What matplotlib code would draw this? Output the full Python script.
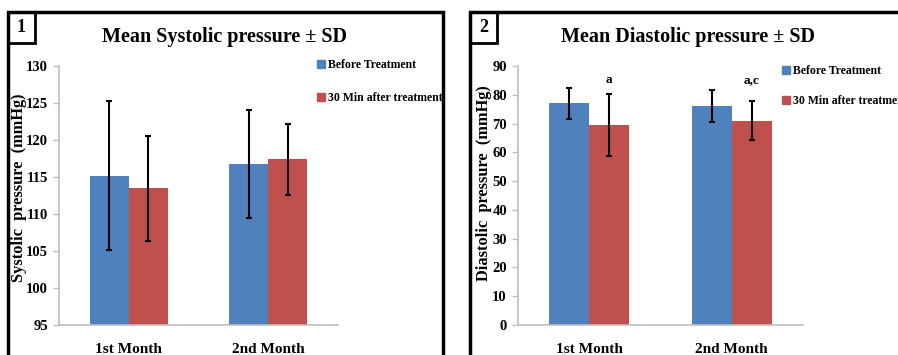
import matplotlib.pyplot as plt
from matplotlib.patches import Rectangle
from matplotlib.lines import Line2D

months = ['1st Month', '2nd Month']
series = ['Before Treatment', '30 Min after treatment']

sys_before = [115.2, 116.8]
sys_before_sd = [10.1, 7.3]
sys_after = [113.5, 117.4]
sys_after_sd = [7.1, 4.8]

dia_before = [77.0, 76.1]
dia_before_sd = [5.4, 5.4]
dia_after = [69.4, 71.0]
dia_after_sd = [10.8, 6.8]
dia_marks = ['a', 'a,c']

blue = '#4F81BD'
red = '#C0504D'
grey = '#BFBFBF'
W, H = 898, 355

plt.rcParams['font.family'] = 'Liberation Serif'
plt.rcParams['font.weight'] = 'bold'

fig = plt.figure(figsize=(W / 100, H / 100), dpi=100)


def fx(px):
    return px / W


def fy(py):
    return 1 - py / H


def panel(x0, x1, ax_l, ax_r, num, title, title_x, ylabel, ylab_x, ylab_y,
          before, bsd, after, asd, ylim, yticks, leg_x, leg_y, leg_sp):
    # outer frame + number box
    fig.patches.append(Rectangle((fx(x0), fy(400)), fx(x1 - x0), fy(12) - fy(400),
                                 transform=fig.transFigure, fill=False, ec='black', lw=2.5, clip_on=False))
    fig.patches.append(Rectangle((fx(x0), fy(43)), fx(27), fy(12) - fy(43),
                                 transform=fig.transFigure, fill=False, ec='black', lw=2, clip_on=False))
    fig.text(fx(x0 + 13.5), fy(28), num, ha='center', va='center', fontsize=13)

    ax = fig.add_axes([fx(ax_l), fy(325), fx(ax_r - ax_l), fy(66) - fy(325)])
    x = [0, 1]
    w = 0.28
    xb = [i - w / 2 for i in x]
    xa = [i + w / 2 for i in x]
    ax.bar(xb, before, w, color=blue)
    ax.bar(xa, after, w, color=red)
    ax.errorbar(xb, before, yerr=bsd, fmt='none', ecolor='black', elinewidth=1.5, capsize=2.5, capthick=1.5)
    ax.errorbar(xa, after, yerr=asd, fmt='none', ecolor='black', elinewidth=1.5, capsize=2.5, capthick=1.5)
    ax.set_xlim(-0.5, 1.5)
    ax.set_ylim(*ylim)
    ax.set_yticks(yticks)
    ax.set_xticks(x)
    ax.set_xticklabels(months, fontsize=11)
    ax.tick_params(axis='x', length=0, pad=13)
    ax.tick_params(axis='y', labelsize=10.5, color=grey, length=4, width=1, pad=4)
    for s in ['top', 'right']:
        ax.spines[s].set_visible(False)
    for s in ['left', 'bottom']:
        ax.spines[s].set_color(grey)
        ax.spines[s].set_linewidth(1.2)
    fig.text(fx(title_x), fy(37), title, ha='center', va='center', fontsize=14.5)
    fig.text(fx(ylab_x), fy(ylab_y), ylabel, rotation=90, ha='center', va='center', fontsize=11.8)

    handles = [Line2D([], [], marker='s', ls='none', color=blue, markersize=6),
               Line2D([], [], marker='s', ls='none', color=red, markersize=6)]
    fig.legend(handles, series, loc='upper left', bbox_to_anchor=(fx(leg_x), fy(leg_y)),
               frameon=False, fontsize=8.5, handlelength=0.7, handletextpad=0.2,
               labelspacing=leg_sp, borderpad=0, borderaxespad=0)
    return ax


panel(8, 443, 59, 338, '1', 'Mean Systolic pressure \u00b1 SD', 225,
      'Systolic  pressure  (mmHg)', 19, 188,
      sys_before, sys_before_sd, sys_after, sys_after_sd, (95, 130), range(95, 131, 5), 317, 59, 1.8)
ax2 = panel(470, 910, 518, 803, '2', 'Mean Diastolic pressure \u00b1 SD', 688,
            'Diastolic  pressure  (mmHg)', 484, 183,
            dia_before, dia_before_sd, dia_after, dia_after_sd, (0, 90), range(0, 91, 10), 782, 65, 1.5)

# significance letters sit on a common line above the "after" bars
for i, m in enumerate(dia_marks):
    ax2.text(i + 0.14, 85, m, ha='center', va='center', fontsize=9.5)

fig.savefig('out.png', dpi=100)
